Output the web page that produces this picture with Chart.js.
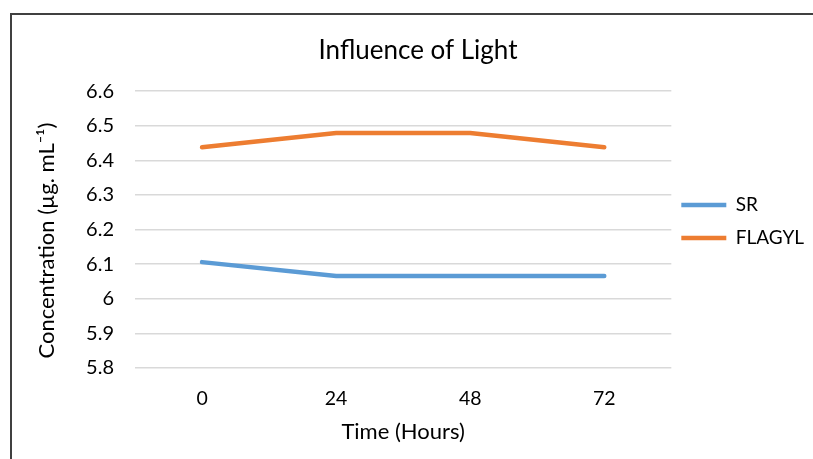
<!DOCTYPE html>
<html><head><meta charset="utf-8">
<script src="https://cdn.jsdelivr.net/npm/chart.js@4"></script>
<style>
html,body{margin:0;padding:0;background:#fff;overflow:hidden;width:813px;height:459px;}
#wrap{position:absolute;left:10px;top:13px;width:830px;height:460px;border-top:2px solid #404040;border-left:2px solid #404040;}
#c{position:absolute;left:0;top:0;}
</style></head><body>
<div id="wrap"><canvas id="c" width="813" height="446"></canvas></div>
<script>
const categories = ["0", "24", "48", "72"];
const srValues = [6.106, 6.066, 6.066, 6.066];
const flagylValues = [6.438, 6.479, 6.479, 6.438];
const seriesNames = ["SR", "FLAGYL"];
const FONT = "Lato, 'Open Sans', sans-serif";
const textColor = "#000";

const tweakPlugin = {
  id: 'tweak',
  afterLayout(chart) {
    const lg = chart.legend;
    if (lg) {
      const targetCenter = 206.5;
      const cur = (lg.top + lg.bottom) / 2;
      const d = targetCenter - cur;
      lg.top += d; lg.bottom += d;
      lg.left -= 4; lg.right -= 4;
    }
    const tb = chart.titleBlock;
    if (tb) { tb.left -= 6; tb.right -= 6; }
    const y = chart.scales.y;
    y.top += 11; y.bottom += 11;
  }
};

new Chart(document.getElementById('c'), {
  type: 'line',
  data: {
    labels: categories,
    datasets: [
      {label: seriesNames[0], data: srValues, borderColor: '#5B9BD5', backgroundColor: '#5B9BD5', borderWidth: 4.5, pointRadius: 0, tension: 0, borderCapStyle: 'round'},
      {label: seriesNames[1], data: flagylValues, borderColor: '#ED7D31', backgroundColor: '#ED7D31', borderWidth: 4.5, pointRadius: 0, tension: 0, borderCapStyle: 'round'}
    ]
  },
  plugins: [tweakPlugin],
  options: {
    responsive: false,
    animation: false,
    layout: {padding: {left: 18, right: 7, top: 18, bottom: 12}},
    plugins: {
      title: {display: true, text: 'Influence of Light', color: textColor, font: {family: FONT, size: 26, weight: 'normal'}, padding: {top: 2, bottom: 25}},
      legend: {
        position: 'right',
        labels: {usePointStyle: true, pointStyle: 'line', pointStyleWidth: 45, color: textColor, font: {family: FONT, size: 19}, padding: 14},
      },
      tooltip: {enabled: false}
    },
    scales: {
      x: {
        offset: true,
        grid: {display: false, drawTicks: false},
        border: {display: false},
        ticks: {color: textColor, font: {family: FONT, size: 19.5}, padding: 19},
        title: {display: true, text: 'Time (Hours)', color: textColor, font: {family: FONT, size: 22}, padding: {top: 4, bottom: 4}},
        afterFit(s) { s.height = 81; }
      },
      y: {
        min: 5.8, max: 6.6,
        grid: {color: '#d9d9d9', lineWidth: 1.5, drawTicks: false},
        border: {display: false},
        ticks: {stepSize: 0.1, color: textColor, font: {family: FONT, size: 20}, padding: 21,
          callback: v => Math.round(v*10)/10 + ''},
        title: {display: true, text: 'Concentration (µg. mL⁻¹)', color: textColor, font: {family: FONT, size: 22}, padding: {top: 4, bottom: 8}},
        afterFit(s) { s.width = 105; }
      }
    }
  }
});
</script>
</body></html>
